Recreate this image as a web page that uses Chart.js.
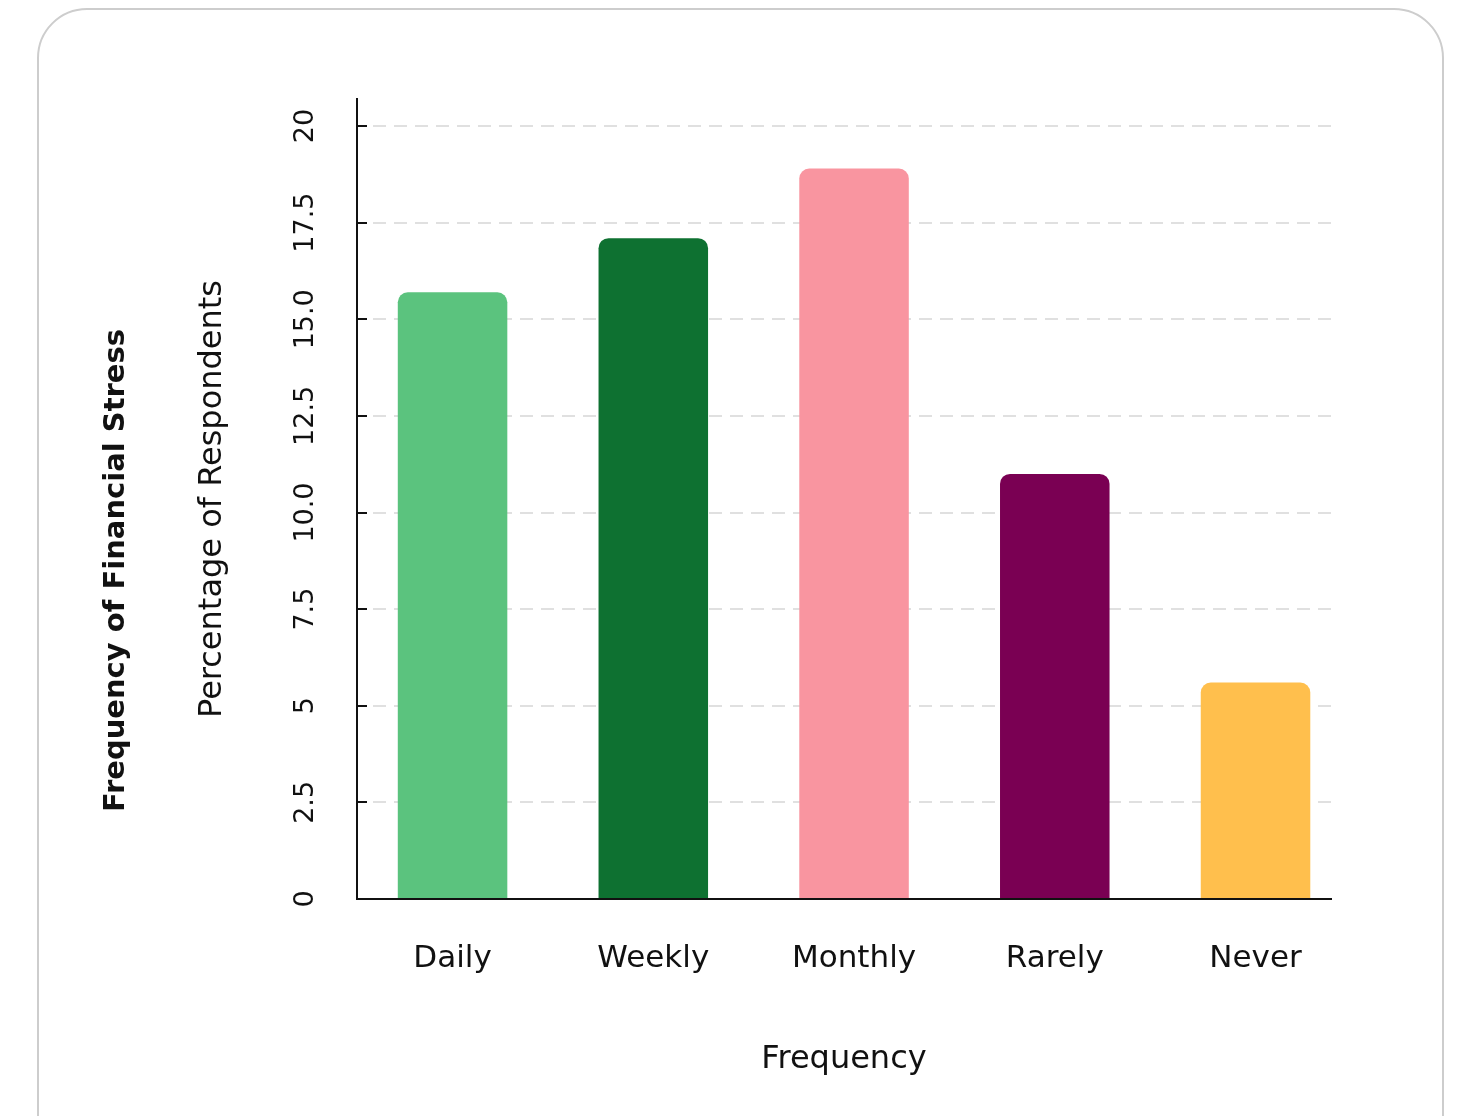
<!DOCTYPE html>
<html>
<head>
<meta charset="utf-8">
<title>Frequency of Financial Stress</title>
<script src="https://cdn.jsdelivr.net/npm/chart.js@4/dist/chart.umd.min.js"></script>
<style>
  html, body { margin: 0; padding: 0; background: #fff; overflow: hidden; width: 1459px; height: 1116px; }
  .card {
    position: absolute; left: 37px; top: 8px; width: 1407px; height: 1200px;
    box-sizing: border-box; border: 2px solid #cdcdcd; border-radius: 50px; background: #fff;
  }
  .wrap { position: absolute; left: 0; top: 0; width: 1459px; height: 1116px; }
</style>
</head>
<body>
<div class="card"></div>
<div class="wrap"><canvas id="chart"></canvas></div>
<script>
// Survey answers: how often respondents feel financial stress
const categories = ['Daily', 'Weekly', 'Monthly', 'Rarely', 'Never'];
const percentages = [15.7, 17.1, 18.9, 11.0, 5.6];
const barColors = ['#5bc37e', '#0e7131', '#f995a0', '#7a0053', '#ffbf4d'];

// Value axis ticks and their printed labels
const yTickValues = [0, 2.5, 5, 7.5, 10, 12.5, 15, 17.5, 20];
const yTickLabels = ['0', '2.5', '5', '7.5', '10.0', '12.5', '15.0', '17.5', '20'];

const FONT = '"DejaVu Sans", Inter, sans-serif';
const INK = '#111111';

// Categories sit at integer positions on a numeric x axis
const points = percentages.map((v, i) => ({ x: i, y: v }));

new Chart(document.getElementById('chart'), {
  type: 'bar',
  data: {
    datasets: [{
      data: points,
      backgroundColor: barColors,
      borderWidth: 0,
      borderRadius: 10,
      borderSkipped: 'start',
      categoryPercentage: 0.8,
      barPercentage: 0.682
    }]
  },
  options: {
    responsive: true,
    maintainAspectRatio: false,
    animation: false,
    devicePixelRatio: 1,
    layout: { padding: { left: 0, right: 128, top: 62, bottom: 37 } },
    plugins: {
      legend: { display: false },
      tooltip: { enabled: false },
      title: {
        display: true,
        position: 'left',
        text: 'Frequency of Financial Stress',
        color: INK,
        font: { family: FONT, size: 29, weight: 'bold' },
        padding: { top: 98.6, bottom: 0 }
      },
      // empty spacer row above the plot area
      subtitle: {
        display: true,
        position: 'top',
        text: '',
        font: { size: 10 },
        padding: { top: 25, bottom: 0 }
      }
    },
    scales: {
      x: {
        type: 'linear',
        offset: false,
        min: -0.476,
        max: 4.376,
        afterBuildTicks: (axis) => {
          axis.ticks = categories.map((c, i) => ({ value: i }));
        },
        grid: { display: false, drawTicks: false },
        border: { display: true, color: INK, width: 2, z: 1 },
        ticks: {
          callback: (value) => categories[value],
          color: INK,
          font: { family: FONT, size: 31 },
          padding: 41,
          maxRotation: 0
        },
        title: {
          display: true,
          text: 'Frequency',
          color: INK,
          font: { family: FONT, size: 32 },
          padding: { top: 22.4, bottom: 0 }
        }
      },
      y: {
        min: 0,
        max: 20.7,
        afterBuildTicks: (axis) => {
          axis.ticks = yTickValues.map(v => ({ value: v }));
        },
        ticks: {
          callback: (value, index) => yTickLabels[index],
          color: INK,
          font: { family: FONT, size: 27 },
          minRotation: 90,
          maxRotation: 90,
          crossAlign: 'center',
          padding: 31
        },
        grid: {
          color: '#e0e0e0',
          lineWidth: 2,
          tickLength: -10,
          tickColor: INK,
          tickWidth: 2,
          tickBorderDash: []
        },
        border: { display: true, color: INK, width: 2, dash: [13, 8], dashOffset: 6, z: 1 },
        title: {
          display: true,
          text: 'Percentage of Respondents',
          color: INK,
          font: { family: FONT, size: 32 },
          padding: { top: 60.4, bottom: 40.4 }
        }
      }
    }
  }
});
</script>
</body>
</html>
